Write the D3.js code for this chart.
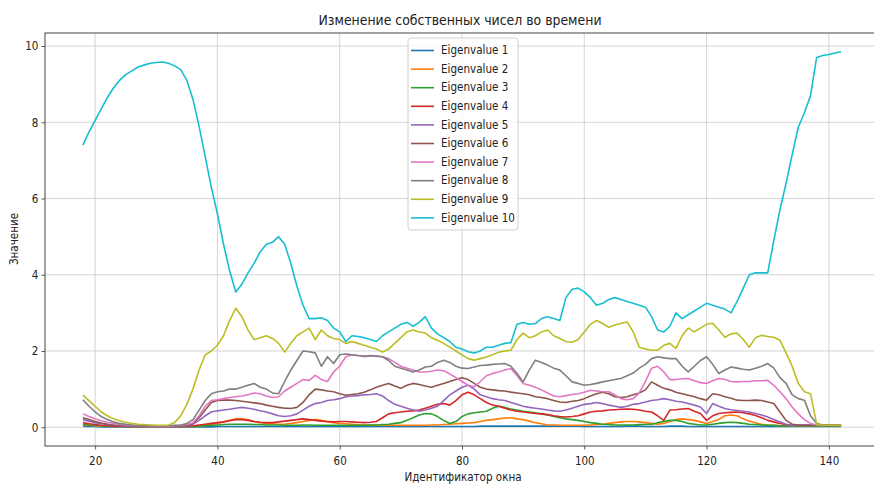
<!DOCTYPE html>
<html>
<head>
<meta charset="utf-8">
<script src="https://cdn.jsdelivr.net/npm/d3@7/dist/d3.min.js"></script>
<style>
  html, body { margin: 0; padding: 0; background: #fff; }
  svg { display: block; }
  text { font-family: "DejaVu Sans", sans-serif; fill: #222; }
</style>
</head>
<body>
<svg id="chart" width="874" height="484"></svg>
<script>
// Window identifiers (x axis)
const windowIds = d3.range(18, 143);

// Eigenvalues per window, one array per eigenvalue
const ev1 = [
  0.03,0.02,0.02,0.01,0.01,0.01,0.01,0.01,0.01,0.01,
  0.01,0.01,0.01,0.01,0.01,0.01,0.01,0.01,0.01,0.01,
  0.01,0.01,0.02,0.02,0.02,0.02,0.02,0.02,0.02,0.02,
  0.02,0.02,0.02,0.02,0.02,0.02,0.02,0.02,0.02,0.02,
  0.02,0.02,0.02,0.02,0.02,0.02,0.02,0.02,0.02,0.02,
  0.02,0.02,0.02,0.02,0.02,0.02,0.02,0.02,0.02,0.02,
  0.02,0.02,0.02,0.02,0.02,0.03,0.03,0.03,0.03,0.03,
  0.03,0.03,0.03,0.03,0.03,0.03,0.03,0.03,0.03,0.03,
  0.03,0.03,0.02,0.02,0.02,0.02,0.02,0.02,0.02,0.03,
  0.03,0.03,0.02,0.02,0.02,0.02,0.03,0.03,0.03,0.02,
  0.02,0.02,0.02,0.02,0.02,0.02,0.02,0.02,0.02,0.02,
  0.02,0.02,0.02,0.02,0.02,0.02,0.02,0.02,0.02,0.02,
  0.02,0.02,0.02,0.02,0.02
];
const ev2 = [
  0.06,0.05,0.04,0.03,0.03,0.02,0.02,0.02,0.02,0.02,
  0.02,0.02,0.02,0.02,0.02,0.02,0.02,0.02,0.02,0.03,
  0.05,0.07,0.10,0.14,0.18,0.22,0.22,0.20,0.15,0.12,
  0.10,0.09,0.08,0.08,0.10,0.12,0.15,0.18,0.20,0.18,
  0.14,0.12,0.10,0.09,0.08,0.07,0.06,0.06,0.05,0.05,
  0.05,0.05,0.05,0.05,0.05,0.05,0.05,0.06,0.06,0.07,
  0.08,0.09,0.10,0.11,0.12,0.15,0.18,0.20,0.22,0.24,
  0.25,0.22,0.20,0.16,0.12,0.09,0.06,0.06,0.05,0.05,
  0.05,0.05,0.05,0.06,0.07,0.08,0.10,0.12,0.14,0.15,
  0.15,0.14,0.12,0.10,0.08,0.10,0.15,0.20,0.22,0.20,
  0.18,0.14,0.10,0.15,0.20,0.30,0.32,0.30,0.22,0.16,
  0.12,0.08,0.06,0.05,0.04,0.04,0.04,0.04,0.04,0.04,
  0.04,0.04,0.04,0.04,0.04
];
const ev3 = [
  0.08,0.06,0.05,0.04,0.03,0.02,0.02,0.02,0.02,0.02,
  0.02,0.02,0.02,0.02,0.02,0.02,0.02,0.02,0.02,0.03,
  0.04,0.05,0.06,0.07,0.08,0.08,0.08,0.08,0.07,0.07,
  0.06,0.06,0.06,0.05,0.05,0.05,0.06,0.06,0.05,0.05,
  0.05,0.05,0.05,0.05,0.05,0.05,0.05,0.06,0.06,0.07,
  0.08,0.10,0.12,0.18,0.25,0.32,0.36,0.35,0.28,0.18,
  0.10,0.15,0.28,0.35,0.38,0.40,0.42,0.50,0.55,0.52,
  0.48,0.45,0.42,0.40,0.38,0.35,0.32,0.28,0.25,0.22,
  0.20,0.18,0.15,0.12,0.10,0.08,0.07,0.06,0.06,0.06,
  0.06,0.07,0.07,0.08,0.12,0.15,0.18,0.18,0.15,0.10,
  0.08,0.06,0.06,0.08,0.10,0.12,0.13,0.12,0.10,0.08,
  0.07,0.06,0.05,0.05,0.04,0.04,0.04,0.04,0.04,0.04,
  0.04,0.04,0.04,0.04,0.04
];
const ev4 = [
  0.12,0.09,0.07,0.05,0.04,0.03,0.03,0.02,0.02,0.02,
  0.02,0.02,0.02,0.02,0.02,0.02,0.02,0.03,0.04,0.06,
  0.08,0.10,0.12,0.14,0.17,0.20,0.20,0.18,0.15,0.13,
  0.12,0.12,0.14,0.16,0.18,0.20,0.22,0.20,0.18,0.16,
  0.15,0.14,0.15,0.15,0.14,0.13,0.12,0.13,0.15,0.25,
  0.35,0.38,0.40,0.42,0.43,0.45,0.50,0.55,0.60,0.62,
  0.58,0.70,0.85,0.92,0.85,0.75,0.65,0.58,0.55,0.50,
  0.45,0.42,0.40,0.38,0.36,0.35,0.33,0.30,0.28,0.27,
  0.28,0.30,0.35,0.40,0.42,0.43,0.45,0.46,0.47,0.48,
  0.47,0.45,0.42,0.40,0.30,0.18,0.45,0.46,0.48,0.49,
  0.42,0.36,0.18,0.30,0.36,0.38,0.39,0.40,0.38,0.35,
  0.31,0.25,0.18,0.14,0.10,0.07,0.05,0.05,0.05,0.05,
  0.05,0.05,0.05,0.05,0.05
];
const ev5 = [
  0.20,0.16,0.12,0.09,0.07,0.05,0.04,0.03,0.03,0.03,
  0.02,0.02,0.02,0.02,0.02,0.03,0.03,0.04,0.08,0.18,
  0.30,0.40,0.43,0.45,0.47,0.50,0.52,0.50,0.47,0.43,
  0.40,0.35,0.30,0.28,0.30,0.35,0.45,0.55,0.62,0.65,
  0.70,0.72,0.75,0.80,0.82,0.83,0.85,0.86,0.88,0.82,
  0.70,0.60,0.55,0.50,0.45,0.42,0.45,0.50,0.55,0.70,
  0.85,0.95,1.05,1.10,1.00,0.85,0.80,0.75,0.72,0.70,
  0.65,0.60,0.55,0.52,0.50,0.48,0.45,0.43,0.42,0.45,
  0.50,0.55,0.60,0.62,0.65,0.62,0.58,0.55,0.52,0.55,
  0.60,0.62,0.66,0.70,0.72,0.75,0.72,0.68,0.66,0.62,
  0.58,0.53,0.36,0.62,0.55,0.49,0.46,0.44,0.42,0.40,
  0.36,0.32,0.27,0.20,0.14,0.08,0.05,0.05,0.05,0.05,
  0.05,0.05,0.05,0.05,0.05
];
const ev6 = [
  0.25,0.20,0.15,0.11,0.08,0.06,0.05,0.04,0.04,0.03,
  0.03,0.03,0.03,0.03,0.03,0.03,0.04,0.05,0.10,0.25,
  0.45,0.65,0.70,0.71,0.71,0.70,0.68,0.66,0.64,0.62,
  0.58,0.55,0.52,0.50,0.49,0.52,0.65,0.85,1.00,0.98,
  0.95,0.93,0.88,0.84,0.86,0.88,0.92,0.98,1.05,1.10,
  1.15,1.08,1.02,1.10,1.15,1.12,1.08,1.05,1.10,1.15,
  1.20,1.25,1.30,1.25,1.15,1.05,1.00,0.98,0.96,0.95,
  0.92,0.90,0.88,0.85,0.80,0.78,0.75,0.70,0.66,0.65,
  0.68,0.70,0.75,0.82,0.88,0.92,0.88,0.80,0.78,0.80,
  0.85,0.90,0.98,1.19,1.10,1.02,0.98,0.92,0.88,0.84,
  0.80,0.75,0.71,0.88,0.85,0.80,0.76,0.71,0.70,0.70,
  0.71,0.70,0.66,0.62,0.40,0.18,0.08,0.06,0.05,0.05,
  0.05,0.05,0.05,0.05,0.05
];
const ev7 = [
  0.35,0.28,0.22,0.17,0.13,0.10,0.08,0.06,0.05,0.04,
  0.04,0.03,0.03,0.03,0.03,0.04,0.05,0.07,0.12,0.30,
  0.55,0.70,0.72,0.75,0.78,0.80,0.82,0.85,0.90,0.88,
  0.82,0.78,0.80,0.95,1.05,1.15,1.25,1.23,1.36,1.25,
  1.20,1.45,1.60,1.85,1.90,1.88,1.85,1.87,1.86,1.85,
  1.80,1.70,1.60,1.55,1.50,1.45,1.45,1.47,1.50,1.48,
  1.40,1.30,1.20,1.10,1.06,1.20,1.35,1.41,1.45,1.50,
  1.54,1.35,1.15,1.10,1.05,0.98,0.90,0.82,0.80,0.83,
  0.86,0.88,0.92,0.97,0.95,0.93,0.93,0.85,0.75,0.72,
  0.75,0.90,1.20,1.55,1.60,1.45,1.25,1.25,1.27,1.28,
  1.22,1.17,1.15,1.22,1.28,1.25,1.20,1.19,1.20,1.20,
  1.22,1.22,1.23,1.10,0.93,0.75,0.53,0.35,0.20,0.10,
  0.06,0.05,0.05,0.05,0.05
];
const ev8 = [
  0.72,0.55,0.40,0.28,0.20,0.14,0.10,0.08,0.06,0.05,
  0.04,0.04,0.04,0.04,0.04,0.05,0.06,0.10,0.20,0.45,
  0.70,0.88,0.93,0.95,1.00,1.00,1.05,1.10,1.15,1.05,
  1.00,0.90,0.88,1.20,1.50,1.75,2.00,1.98,1.95,1.60,
  1.85,1.67,1.90,1.92,1.90,1.88,1.87,1.88,1.87,1.85,
  1.75,1.60,1.55,1.50,1.45,1.50,1.58,1.60,1.70,1.76,
  1.70,1.60,1.55,1.54,1.58,1.62,1.63,1.65,1.66,1.67,
  1.60,1.41,1.19,1.50,1.76,1.70,1.63,1.55,1.50,1.35,
  1.19,1.15,1.10,1.12,1.15,1.19,1.22,1.25,1.28,1.35,
  1.42,1.55,1.65,1.80,1.85,1.82,1.80,1.80,1.60,1.45,
  1.60,1.75,1.85,1.65,1.41,1.50,1.58,1.55,1.52,1.50,
  1.55,1.60,1.67,1.55,1.30,1.15,0.85,0.75,0.71,0.30,
  0.10,0.06,0.05,0.05,0.05
];
const ev9 = [
  0.84,0.70,0.55,0.40,0.30,0.22,0.17,0.13,0.10,0.08,
  0.07,0.06,0.05,0.05,0.06,0.12,0.30,0.60,1.00,1.50,
  1.90,2.00,2.15,2.40,2.80,3.12,2.90,2.55,2.30,2.35,
  2.40,2.33,2.20,1.97,2.20,2.40,2.50,2.60,2.30,2.55,
  2.40,2.33,2.30,2.20,2.25,2.20,2.15,2.10,2.05,1.97,
  2.05,2.20,2.35,2.50,2.55,2.50,2.47,2.35,2.28,2.20,
  2.10,2.00,1.90,1.80,1.76,1.80,1.84,1.90,1.97,2.00,
  2.02,2.30,2.47,2.35,2.40,2.50,2.55,2.40,2.33,2.25,
  2.23,2.30,2.50,2.70,2.80,2.72,2.62,2.68,2.72,2.76,
  2.50,2.10,2.05,2.02,2.02,2.15,2.20,2.07,2.40,2.60,
  2.50,2.60,2.70,2.73,2.55,2.36,2.45,2.47,2.30,2.10,
  2.35,2.41,2.38,2.36,2.28,1.95,1.60,1.15,0.93,0.88,
  0.08,0.05,0.05,0.05,0.05
];
const ev10 = [
  7.40,7.75,8.05,8.35,8.65,8.90,9.10,9.25,9.35,9.45,
  9.50,9.55,9.57,9.58,9.55,9.48,9.38,9.10,8.60,7.90,
  7.10,6.30,5.60,4.80,4.10,3.55,3.75,4.05,4.30,4.60,
  4.80,4.85,5.00,4.80,4.30,3.70,3.20,2.85,2.85,2.87,
  2.80,2.60,2.50,2.25,2.40,2.38,2.35,2.30,2.25,2.40,
  2.50,2.60,2.70,2.75,2.65,2.75,2.90,2.60,2.45,2.35,
  2.25,2.10,2.05,1.98,1.95,2.00,2.10,2.10,2.15,2.20,
  2.22,2.70,2.75,2.70,2.72,2.85,2.90,2.85,2.80,3.40,
  3.62,3.65,3.55,3.40,3.20,3.25,3.35,3.40,3.35,3.30,
  3.25,3.20,3.15,2.90,2.55,2.50,2.65,3.00,2.85,2.95,
  3.05,3.15,3.25,3.20,3.15,3.10,3.00,3.30,3.65,4.00,
  4.05,4.05,4.05,4.90,5.70,6.40,7.15,7.87,8.25,8.70,
  9.70,9.75,9.78,9.82,9.85
];

const seriesNames = ["Eigenvalue 1","Eigenvalue 2","Eigenvalue 3","Eigenvalue 4","Eigenvalue 5",
                     "Eigenvalue 6","Eigenvalue 7","Eigenvalue 8","Eigenvalue 9","Eigenvalue 10"];
const seriesValues = [ev1, ev2, ev3, ev4, ev5, ev6, ev7, ev8, ev9, ev10];
const seriesColors = ["#1f77b4","#ff7f0e","#2ca02c","#d62728","#9467bd",
                      "#8c564b","#e377c2","#7f7f7f","#bcbd22","#17becf"];

const xTicks = [20, 40, 60, 80, 100, 120, 140];
const yTicks = [0, 2, 4, 6, 8, 10];

const titleText = "Изменение собственных чисел во времени";
const xLabelText = "Идентификатор окна";
const yLabelText = "Значение";

// ---- layout ----
const svg = d3.select("#chart");
const plot = { left: 45, right: 879, top: 33, bottom: 446 };
const squeeze = 0.88;      // horizontal glyph scale
const fs = 11.8;           // tick / legend font size

const x = d3.scaleLinear().domain([11.8, 148.2]).range([plot.left, plot.right]);
const y = d3.scaleLinear().domain([-0.4925, 10.3425]).range([plot.bottom, plot.top]);

// grid
const grid = svg.append("g").attr("stroke", "#cfcfcf").attr("stroke-width", 0.9);
grid.selectAll("line.gx").data(xTicks).join("line")
  .attr("x1", d => x(d)).attr("x2", d => x(d))
  .attr("y1", plot.top).attr("y2", plot.bottom);
grid.selectAll("line.gy").data(yTicks).join("line")
  .attr("x1", plot.left).attr("x2", plot.right)
  .attr("y1", d => y(d)).attr("y2", d => y(d));

// series lines
const line = d3.line().x((d, i) => x(windowIds[i])).y(d => y(d));
svg.append("g").selectAll("path").data(seriesValues).join("path")
  .attr("fill", "none")
  .attr("stroke", (d, i) => seriesColors[i])
  .attr("stroke-width", 1.6)
  .attr("stroke-linejoin", "round")
  .attr("d", d => line(d));

// spines
svg.append("rect")
  .attr("x", plot.left).attr("y", plot.top)
  .attr("width", plot.right - plot.left).attr("height", plot.bottom - plot.top)
  .attr("fill", "none").attr("stroke", "#444").attr("stroke-width", 1);

// axes
function styleAxis(g) {
  g.select(".domain").remove();
  g.selectAll(".tick line").attr("stroke", "#444").attr("stroke-width", 0.9);
  g.selectAll(".tick text")
    .attr("font-family", "DejaVu Sans, sans-serif")
    .attr("font-size", fs)
    .attr("fill", "#222")
    .attr("transform", `scale(${squeeze},1)`);
}
svg.append("g")
  .attr("transform", `translate(0,${plot.bottom})`)
  .call(d3.axisBottom(x).tickValues(xTicks).tickSize(3.5).tickPadding(7).tickFormat(d3.format("d")))
  .call(styleAxis);
svg.append("g")
  .attr("transform", `translate(${plot.left},0)`)
  .call(d3.axisLeft(y).tickValues(yTicks).tickSize(3.5).tickPadding(4).tickFormat(d3.format("d")))
  .call(styleAxis);

// title and axis labels
function addText(tx, ty, str, size, rotate) {
  svg.append("text")
    .attr("transform", `translate(${tx},${ty}) rotate(${rotate || 0}) scale(${squeeze},1)`)
    .attr("text-anchor", "middle")
    .attr("dominant-baseline", "central")
    .attr("font-size", size)
    .text(str);
}
addText(460, 20, titleText, 14.2, 0);
addText(463, 477, xLabelText, fs, 0);
addText(14, 239, yLabelText, fs, -90);

// legend
const leg = svg.append("g");
leg.append("rect")
  .attr("x", 408).attr("y", 38).attr("width", 110).attr("height", 192)
  .attr("rx", 3)
  .attr("fill", "#fff").attr("fill-opacity", 0.8)
  .attr("stroke", "#d0d0d0").attr("stroke-width", 1);
const rowY = i => 50.5 + i * 18.6;
leg.selectAll("line").data(seriesNames).join("line")
  .attr("x1", 411).attr("x2", 434)
  .attr("y1", (d, i) => rowY(i)).attr("y2", (d, i) => rowY(i))
  .attr("stroke", (d, i) => seriesColors[i]).attr("stroke-width", 1.6);
leg.selectAll("text").data(seriesNames).join("text")
  .attr("transform", (d, i) => `translate(441,${rowY(i)}) scale(${squeeze},1)`)
  .attr("dominant-baseline", "central")
  .attr("font-size", fs)
  .text(d => d);
</script>
</body>
</html>
